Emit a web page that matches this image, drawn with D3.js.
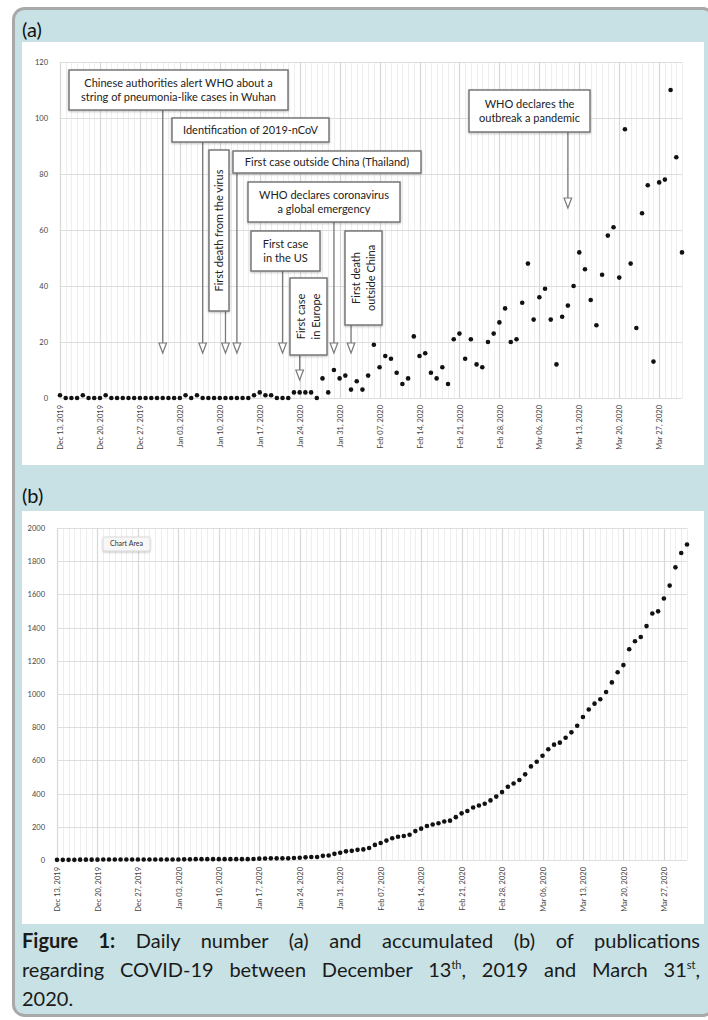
<!DOCTYPE html>
<html lang="en">
<head>
<meta charset="utf-8" />
<title>Daily and accumulated COVID-19 publications</title>
<script src="https://cdnjs.cloudflare.com/ajax/libs/d3/7.8.5/d3.min.js"></script>
<style>
html, body {
  margin: 0;
  padding: 0;
  width: 708px;
  height: 1020px;
  background: #fff;
  overflow: hidden;
}
#wrap { position: relative; width: 708px; height: 1020px; overflow: hidden; }
svg { position: absolute; left: 0; top: 0; }
.caption {
  position: absolute;
  left: 22px;
  top: 926px;
  width: 678px;
  font-family: Lato, "Open Sans", sans-serif;
  font-size: 20px;
  line-height: 29px;
  color: #1a1a1a;
}
.caption .ln { display: block; text-align: justify; text-align-last: justify; white-space: nowrap; }
.caption .ln.last { text-align-last: left; }
.caption b { font-weight: bold; }
.caption sup { font-size: 11px; line-height: 0; vertical-align: 8px; }
.tick text { font-family: Lato, "Open Sans", sans-serif; font-size: 7.5px; fill: #444; }
.callout text { font-family: Lato, "Open Sans", sans-serif; font-size: 11px; fill: #222; }
</style>
</head>
<body>
<div id="wrap">
  <svg id="fig" width="708" height="1020"></svg>
  <div class="caption">
    <span class="ln"><b>Figure 1:</b> Daily number (a) and accumulated (b) of publications</span>
    <span class="ln">regarding COVID-19 between December 13<sup>th</sup>, 2019 and March 31<sup>st</sup>,</span>
    <span class="ln last">2020.</span>
  </div>
</div>

<script>
// ---- data ----
var startDate = new Date(2019, 11, 13);

// daily publications, Dec 13 2019 .. Mar 31 2020
var dailyCounts = [
  1,0,0,0,1,0,0,0,1,0,
  0,0,0,0,0,0,0,0,0,0,
  0,0,1,0,1,0,0,0,0,0,
  0,0,0,0,1,2,1,1,0,0,
  0,2,2,2,2,0,7,2,10,7,
  8,3,6,3,8,19,11,15,14,9,
  5,7,22,15,16,9,7,11,5,21,
  23,14,21,12,11,20,23,27,32,20,
  21,34,48,28,36,39,28,12,29,33,
  40,52,46,35,26,44,58,61,43,96,
  48,25,66,76,13,77,78,110,86,52
];

// accumulated publications, same days
var accumulatedCounts = [
  1,1,1,1,2,2,2,2,3,3,
  3,3,3,3,3,3,3,3,3,3,
  3,3,4,4,5,5,5,5,5,5,
  5,5,5,5,6,8,9,10,10,10,
  10,12,14,16,18,18,25,27,37,44,
  52,55,61,64,72,91,102,117,131,140,
  145,152,174,189,205,214,221,232,237,258,
  281,295,316,328,339,359,382,409,441,461,
  482,516,564,592,628,667,695,707,736,769,
  809,861,907,942,968,1012,1070,1131,1174,1270,
  1318,1343,1409,1485,1498,1575,1653,1763,1849,1901
];

var tickLabels = [
  "Dec 13, 2019", "Dec 20, 2019", "Dec 27, 2019", "Jan 03, 2020",
  "Jan 10, 2020", "Jan 17, 2020", "Jan 24, 2020", "Jan 31, 2020",
  "Feb 07, 2020", "Feb 14, 2020", "Feb 21, 2020", "Feb 28, 2020",
  "Mar 06, 2020", "Mar 13, 2020", "Mar 20, 2020", "Mar 27, 2020"
];
var yTicksA = [0, 20, 40, 60, 80, 100, 120];
var yTicksB = [0, 200, 400, 600, 800, 1000, 1200, 1400, 1600, 1800, 2000];

var eventDates = ["Dec 31, 2019", "Jan 07, 2020", "Jan 11, 2020", "Jan 13, 2020",
  "Jan 30, 2020", "Jan 21, 2020", "Jan 24, 2020", "Feb 02, 2020", "Mar 11, 2020"];
var eventTexts = [
  ["Chinese authorities alert WHO about a", "string of pneumonia-like cases in Wuhan"],
  ["Identification of 2019-nCoV"],
  ["First death from the virus"],
  ["First case outside China (Thailand)"],
  ["WHO declares coronavirus", "a global emergency"],
  ["First case", "in the US"],
  ["First case", "in Europe"],
  ["First death", "outside China"],
  ["WHO declares the", "outbreak a pandemic"]
];

// ---- layout ----
var parse = d3.timeParse("%b %d, %Y");
var endDate = d3.timeDay.offset(startDate, dailyCounts.length - 1);
var days = dailyCounts.map(function(d, i) { return d3.timeDay.offset(startDate, i); });
var tickDates = tickLabels.map(parse);

// callout boxes: [x0, y0, x1, y1, vertical?, arrowTop]
var boxes = [
  [69, 70, 288, 110, false, 343],
  [172, 118, 329, 142, false, 343],
  [209, 150, 229, 311, true, 343],
  [233, 151, 421, 173, false, 343],
  [248, 182, 400, 222, false, 343],
  [251, 231, 320, 271, false, 343],
  [290, 278, 327, 355, true, 370],
  [345, 231, 382, 325, true, 343],
  [469, 90, 590, 132, false, 198]
];

var svg = d3.select("#fig");

var defs = svg.append("defs");
var sh = defs.append("filter").attr("id", "shadow").attr("x", "-30%").attr("y", "-50%")
  .attr("width", "160%").attr("height", "200%");
sh.append("feDropShadow").attr("dx", 0).attr("dy", 1).attr("stdDeviation", 1.2)
  .attr("flood-color", "#000").attr("flood-opacity", 0.25);

// outer frame (right edge runs off the picture)
svg.append("rect")
  .attr("x", 13.5).attr("y", 8.5).attr("width", 700).attr("height", 1007)
  .attr("rx", 11)
  .attr("fill", "#c7e1e4")
  .attr("stroke", "#a9a9a9").attr("stroke-width", 3);

// panel labels + white panels
svg.append("text").attr("x", 22).attr("y", 37).text("(a)")
  .style("font-family", "Lato, 'Open Sans', sans-serif").style("font-size", "20px").attr("fill", "#111");
svg.append("text").attr("x", 22).attr("y", 503).text("(b)")
  .style("font-family", "Lato, 'Open Sans', sans-serif").style("font-size", "20px").attr("fill", "#111");
svg.append("rect").attr("x", 22).attr("y", 42).attr("width", 682).attr("height", 423).attr("fill", "#fff");
svg.append("rect").attr("x", 22).attr("y", 511).attr("width", 682).attr("height", 413).attr("fill", "#fff");

function drawPanel(opts) {
  var x = d3.scaleTime().domain([startDate, endDate]).range([opts.x0, opts.x1]);
  var y = d3.scaleLinear().domain([0, opts.yMax]).range([opts.y0, opts.y1]);
  var g = svg.append("g");

  // daily minor grid
  g.append("g").selectAll("line")
    .data(d3.timeDay.range(startDate, d3.timeDay.offset(endDate, 1)))
    .join("line")
    .attr("x1", function(d) { return Math.round(x(d)) + 0.5; })
    .attr("x2", function(d) { return Math.round(x(d)) + 0.5; })
    .attr("y1", opts.y1).attr("y2", opts.y0)
    .attr("stroke", "#eeeeee").attr("stroke-width", 1);

  // horizontal grid
  g.append("g").selectAll("line")
    .data(opts.yTicks)
    .join("line")
    .attr("x1", opts.x0).attr("x2", opts.x1)
    .attr("y1", function(d) { return Math.round(y(d)) + 0.5; })
    .attr("y2", function(d) { return Math.round(y(d)) + 0.5; })
    .attr("stroke", "#dedede").attr("stroke-width", 1.2);

  // weekly major grid
  g.append("g").selectAll("line")
    .data(tickDates)
    .join("line")
    .attr("x1", function(d) { return Math.round(x(d)) + 0.5; })
    .attr("x2", function(d) { return Math.round(x(d)) + 0.5; })
    .attr("y1", opts.y1).attr("y2", opts.y0)
    .attr("stroke", "#d8d8d8").attr("stroke-width", 1.2);

  // x axis labels (rotated)
  var xAxis = d3.axisBottom(x)
    .tickValues(tickDates)
    .tickFormat(function(d, i) { return tickLabels[i]; })
    .tickSize(0);
  var xg = g.append("g").attr("transform", "translate(0," + opts.y0 + ")").call(xAxis);
  xg.select(".domain").remove();
  xg.selectAll("text")
    .attr("transform", "translate(0," + opts.labelGap + ") rotate(-90)")
    .attr("x", 0).attr("y", 0).attr("dy", "0.35em")
    .style("text-anchor", "end");

  // y axis labels
  var yAxis = d3.axisLeft(y).tickValues(opts.yTicks).tickSize(0).tickFormat(d3.format("d"));
  var yg = g.append("g").attr("transform", "translate(" + (opts.x0 - 12) + ",0)").call(yAxis);
  yg.select(".domain").remove();
  yg.selectAll("text").attr("x", 0).attr("dy", "0.32em");

  // points
  g.append("g").selectAll("circle")
    .data(opts.values)
    .join("circle")
    .attr("cx", function(d, i) { return x(days[i]); })
    .attr("cy", function(d) { return y(d); })
    .attr("r", 2.3)
    .attr("fill", "#111");

  return { x: x, y: y, g: g };
}

var pa = drawPanel({ x0: 60, x1: 682, y0: 398, y1: 62, yMax: 120, yTicks: yTicksA,
  values: dailyCounts, labelGap: 7 });
var pb = drawPanel({ x0: 57, x1: 687, y0: 860, y1: 528, yMax: 2000, yTicks: yTicksB,
  values: accumulatedCounts, labelGap: 7 });

// ---- callouts in (a) ----
var cg = svg.append("g").attr("class", "callout");
eventDates.forEach(function(ds, i) {
  var b = boxes[i];
  var ax = pa.x(parse(ds));
  var lines = eventTexts[i];

  // leader line and open arrow head
  cg.append("line")
    .attr("x1", ax).attr("x2", ax)
    .attr("y1", b[3]).attr("y2", b[5])
    .attr("stroke", "#7a7a7a").attr("stroke-width", 1.3);
  cg.append("path")
    .attr("d", "M" + (ax - 3.8) + "," + b[5] + "L" + (ax + 3.8) + "," + b[5] + "L" + ax + "," + (b[5] + 10) + "Z")
    .attr("fill", "#fff").attr("stroke", "#7a7a7a").attr("stroke-width", 1.2);

  cg.append("rect")
    .attr("x", b[0]).attr("y", b[1])
    .attr("width", b[2] - b[0]).attr("height", b[3] - b[1])
    .attr("fill", "#fff").attr("stroke", "#6e6e6e").attr("stroke-width", 1.4)
    .attr("filter", "url(#shadow)");

  var cx = (b[0] + b[2]) / 2, cy = (b[1] + b[3]) / 2;
  var lh = 14.5;
  var t = cg.append("text")
    .attr("text-anchor", "middle")
    .attr("transform", b[4]
      ? "translate(" + cx + "," + cy + ") rotate(-90)"
      : "translate(" + cx + "," + cy + ")");
  lines.forEach(function(s, k) {
    t.append("tspan")
      .attr("x", 0)
      .attr("y", (k - (lines.length - 1) / 2) * lh)
      .attr("dy", "0.35em")
      .text(s);
  });
});

// "Chart Area" hover label in (b)
var ca = svg.append("g");
ca.append("rect").attr("x", 103).attr("y", 537).attr("width", 47).attr("height", 14).attr("rx", 2)
  .attr("fill", "#f7f7f7").attr("stroke", "#d4d4d4").attr("stroke-width", 0.8)
  .attr("filter", "url(#shadow)");
ca.append("text").attr("x", 126.5).attr("y", 544).attr("dy", "0.35em").attr("text-anchor", "middle")
  .style("font-family", "Lato, 'Open Sans', sans-serif").style("font-size", "7px").attr("fill", "#333")
  .text("Chart Area");
</script>
</body>
</html>
